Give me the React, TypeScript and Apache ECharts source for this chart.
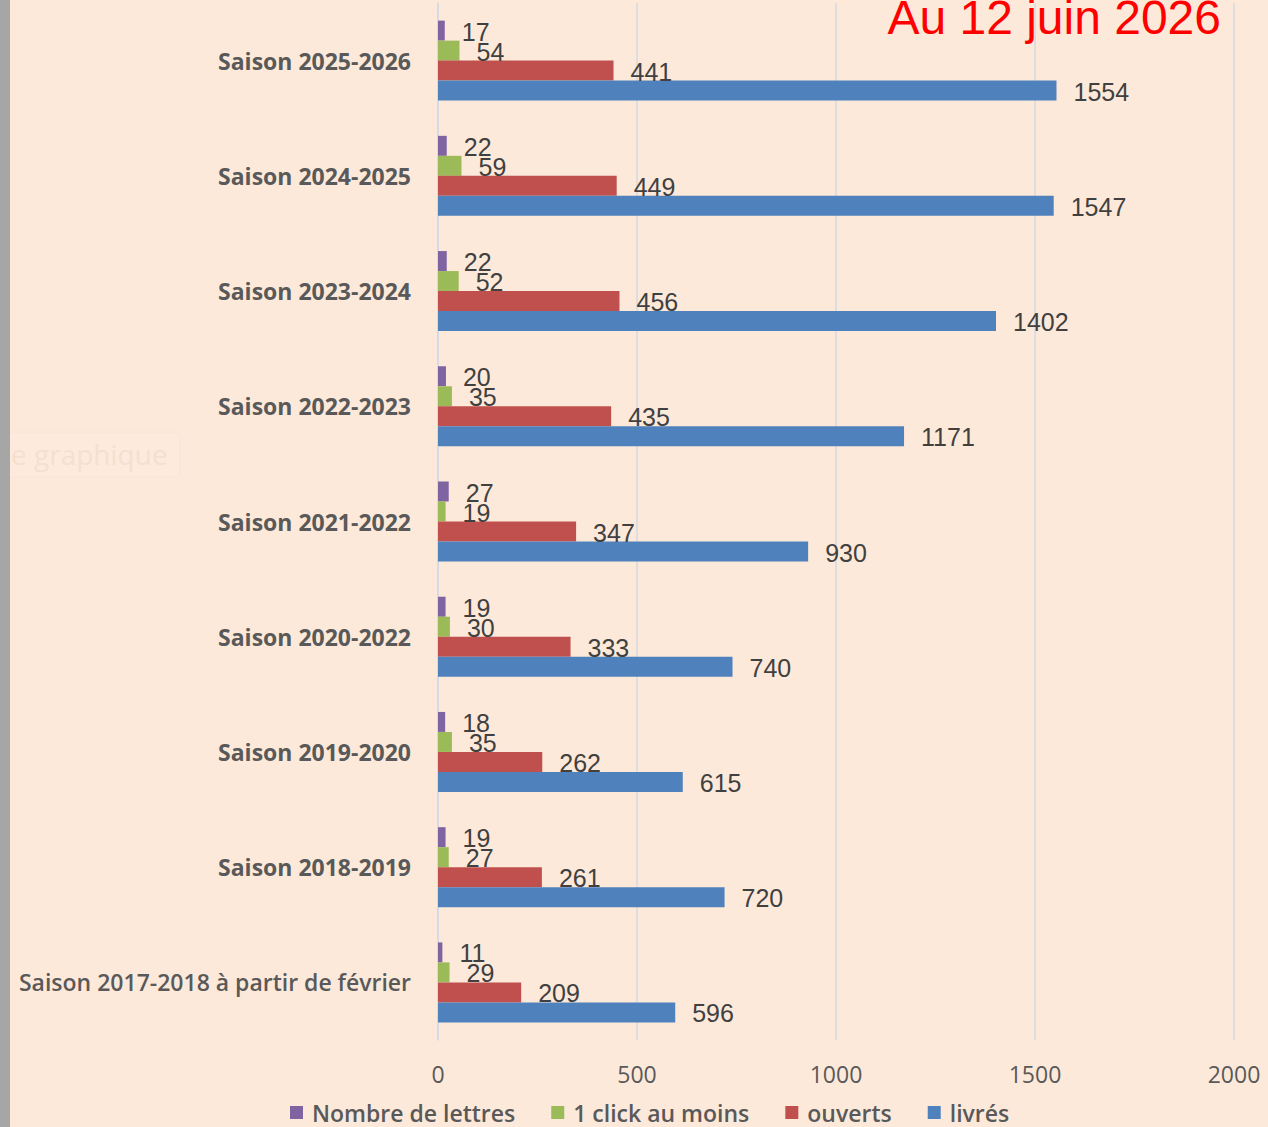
import React, { useEffect, useRef } from "react";
import * as echarts from "echarts";

const categories = [
  "Saison 2025-2026",
  "Saison 2024-2025",
  "Saison 2023-2024",
  "Saison 2022-2023",
  "Saison 2021-2022",
  "Saison 2020-2022",
  "Saison 2019-2020",
  "Saison 2018-2019",
  "Saison 2017-2018 à partir de février",
];
const lettres = [17, 22, 22, 20, 27, 19, 18, 19, 11];
const clics = [54, 59, 52, 35, 19, 30, 35, 27, 29];
const ouverts = [441, 449, 456, 435, 347, 333, 262, 261, 209];
const livres = [1554, 1547, 1402, 1171, 930, 740, 615, 720, 596];
const seriesNames = ["Nombre de lettres", "1 click au moins", "ouverts", "livrés"];
const seriesColors = ["#8064A2", "#9BBB59", "#C0504D", "#4F81BD"];
const titleText = "Au 12 juin 2026";

export default function App() {
  const ref = useRef<HTMLDivElement>(null);
  useEffect(() => {
    document.body.style.margin = "0";
    const chart = echarts.init(ref.current!, null, { renderer: "svg" });
    const data = [lettres, clics, ouverts, livres];
    const lastCat = categories[categories.length - 1];
    chart.setOption({
      animation: false,
      backgroundColor: "#FDE9DA",
      grid: { left: 438, right: 34, top: 3, bottom: 87, containLabel: false },
      xAxis: {
        type: "value",
        min: 0,
        max: 2000,
        interval: 500,
        axisLine: { show: false },
        axisTick: { show: false },
        splitLine: { show: true, lineStyle: { color: "#D3DAE3", width: 1.5 } },
        axisLabel: {
          margin: 22,
          color: "#595959",
          fontFamily: "Open Sans",
          fontSize: 23,
          formatter: (v: number) => String(v),
        },
      },
      yAxis: {
        type: "category",
        inverse: true,
        data: categories,
        axisLine: { show: true, lineStyle: { color: "#D3DAE3", width: 1.5 } },
        axisTick: { show: false },
        axisLabel: {
          margin: 27,
          color: "#595959",
          fontFamily: "Open Sans",
          fontWeight: "bold",
          fontSize: 23,
          formatter: (v: string) => (v === lastCat ? "{n|" + v + "}" : v),
          rich: {
            n: {
              color: "#595959",
              fontFamily: "Open Sans",
              fontWeight: 600,
              fontSize: 23,
            },
          },
        },
      },
      legend: {
        left: 290,
        top: 1101,
        padding: 0,
        icon: "rect",
        itemWidth: 13,
        itemHeight: 13,
        itemGap: 36,
        textStyle: {
          color: "#595959",
          fontFamily: "Open Sans",
          fontWeight: 600,
          fontSize: 23,
          lineHeight: 22,
          padding: [0, 0, 0, 4],
        },
        data: seriesNames,
      },
      series: seriesNames.map((name, i) => ({
        name,
        type: "bar",
        data: data[i],
        barWidth: 20,
        barGap: "0%",
        itemStyle: { color: seriesColors[i] },
        label: {
          show: true,
          position: "right",
          distance: 17,
          offset: [0, 1],
          color: "#404040",
          fontFamily: "Liberation Sans",
          fontSize: 25,
        },
      })),
      graphic: [
        {
          type: "rect",
          left: 0,
          top: 0,
          shape: { width: 10, height: 1127 },
          style: { fill: "#A6A6A6" },
          z: 100,
        },
        {
          type: "rect",
          shape: { x: 8, y: 432, width: 172, height: 45, r: 3 },
          style: { fill: "#FDEADC", stroke: "#F9E4D6", lineWidth: 1 },
          z: 50,
        },
        {
          type: "text",
          x: 11,
          y: 454,
          style: {
            text: "e graphique",
            fill: "#F5DFD0",
            font: "28px 'Open Sans'",
            verticalAlign: "middle",
          },
          z: 51,
        },
        {
          type: "text",
          x: 1221,
          y: 17,
          style: {
            text: titleText,
            fill: "#FF0000",
            font: "48px 'Liberation Sans'",
            align: "right",
            verticalAlign: "middle",
          },
          z: 60,
        },
      ],
    });
    return () => chart.dispose();
  }, []);
  return <div ref={ref} style={{ width: 1268, height: 1127 }} />;
}
